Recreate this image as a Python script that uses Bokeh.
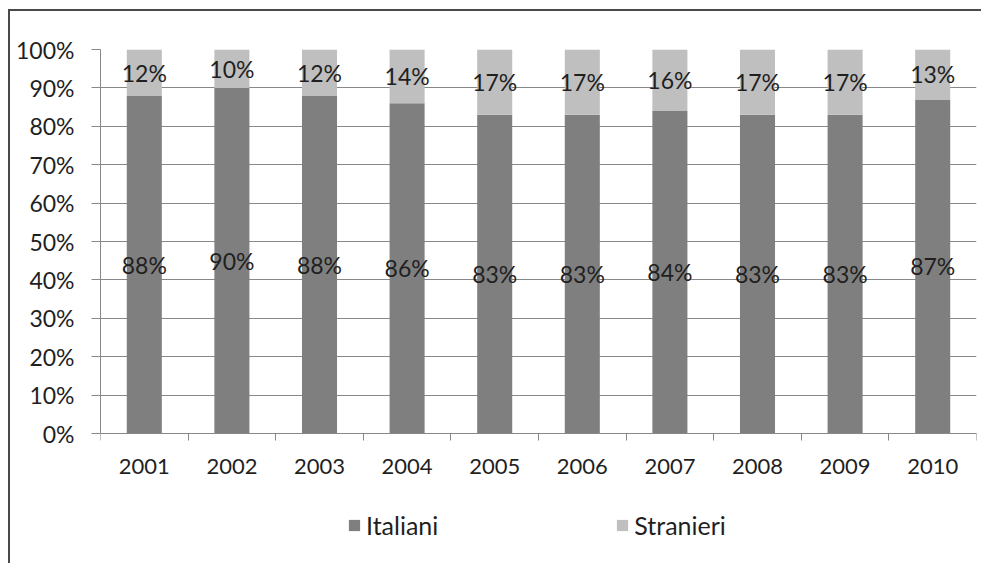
from bokeh.plotting import figure
from bokeh.models import (ColumnDataSource, Range1d, FixedTicker, NumeralTickFormatter,
                          Legend, LegendItem)
from bokeh.embed import file_html
from bokeh.resources import INLINE
from bokeh.core.properties import value

# Quota di popolazione per anno (percentuali)
years = ["2001", "2002", "2003", "2004", "2005", "2006", "2007", "2008", "2009", "2010"]
italiani = [88, 90, 88, 86, 83, 83, 84, 83, 83, 87]
stranieri = [12, 10, 12, 14, 17, 17, 16, 17, 17, 13]

DARK = "#7f7f7f"
LIGHT = "#bfbfbf"
GRID = "#888888"
TEXT = "#1f1f1f"
FONT = "Lato"

x = list(range(1, len(years) + 1))
ita = [v / 100 for v in italiani]
stra = [v / 100 for v in stranieri]

src = ColumnDataSource(dict(
    x=x,
    ita=ita,
    stra=stra,
    stra_top=[a + b for a, b in zip(ita, stra)],
    ita_mid=[a / 2 for a in ita],
    stra_mid=[a + b / 2 for a, b in zip(ita, stra)],
    ita_lbl=[f"{v}%" for v in italiani],
    stra_lbl=[f"{v}%" for v in stranieri],
))

# The frame reaches the bottom edge so the legend can sit below the x axis;
# the x axis itself is pinned at y = 0.
PX_PER_UNIT = 384
y_bottom = -(565 - 433) / PX_PER_UNIT

p = figure(width=973, height=554, output_backend="svg", toolbar_location=None,
           x_range=Range1d(0.5, len(years) + 0.5), y_range=Range1d(y_bottom, 1),
           min_border_left=90, min_border_right=7, min_border_top=38, min_border_bottom=0,
           styles={"margin-left": "8px", "margin-top": "9px",
                   "border-left": "2px solid #4a4a4a", "border-top": "2px solid #4a4a4a"})
p.outline_line_color = None
p.background_fill_color = "white"
p.border_fill_color = "white"

r_ita = p.vbar(x="x", bottom=0, top="ita", width=0.4, source=src,
               fill_color=DARK, line_color=None)
r_stra = p.vbar(x="x", bottom="ita", top="stra_top", width=0.4, source=src,
                fill_color=LIGHT, line_color=None)

p.text(x="x", y="ita_mid", text="ita_lbl", source=src, text_align="center",
       text_baseline="middle", text_font=value(FONT), text_font_size="23px",
       text_color=TEXT)
p.text(x="x", y="stra_mid", text="stra_lbl", source=src, text_align="center",
       text_baseline="middle", text_font=value(FONT), text_font_size="23px",
       text_color=TEXT)

# Y axis: percent ticks, gridlines every 10%
yticks = [i / 10 for i in range(11)]
p.yaxis.ticker = FixedTicker(ticks=yticks)
p.yaxis.bounds = (0, 1)
p.yaxis.formatter = NumeralTickFormatter(format="0%")
p.yaxis.axis_line_color = GRID
p.yaxis.major_tick_line_color = GRID
p.yaxis.major_tick_out = 9
p.yaxis.major_tick_in = 0
p.yaxis.minor_tick_line_color = None
p.yaxis.major_label_standoff = 17
p.yaxis.major_label_text_font = FONT
p.yaxis.major_label_text_font_size = "23px"
p.yaxis.major_label_text_color = TEXT

p.ygrid.ticker = FixedTicker(ticks=yticks)
p.ygrid.grid_line_color = GRID
p.xgrid.grid_line_color = None

# X axis: year labels at bar centres, tick marks on category boundaries
p.xaxis.fixed_location = 0
p.xaxis.ticker = FixedTicker(ticks=x, minor_ticks=[i + 0.5 for i in range(len(years) + 1)])
p.xaxis.major_label_overrides = {i: y for i, y in zip(x, years)}
p.xaxis.axis_line_color = GRID
p.xaxis.major_tick_line_color = None
p.xaxis.major_tick_out = 0
p.xaxis.major_tick_in = 0
p.xaxis.minor_tick_line_color = GRID
p.xaxis.minor_tick_out = 7
p.xaxis.minor_tick_in = 0
p.xaxis.major_label_standoff = 18
p.xaxis.major_label_text_font = FONT
p.xaxis.major_label_text_font_size = "22px"
p.xaxis.major_label_text_color = TEXT

legend = Legend(items=[LegendItem(label="Italiani", renderers=[r_ita]),
                       LegendItem(label="Stranieri", renderers=[r_stra])],
                orientation="horizontal", location=(247, 25),
                glyph_width=14, glyph_height=14, label_standoff=5,
                label_height=20, spacing=177, padding=0, margin=0,
                border_line_color=None, background_fill_alpha=0,
                label_text_font=FONT, label_text_font_size="25px",
                label_text_color=TEXT)
p.add_layout(legend, "center")

open("out.html", "w").write(file_html(p, INLINE))
